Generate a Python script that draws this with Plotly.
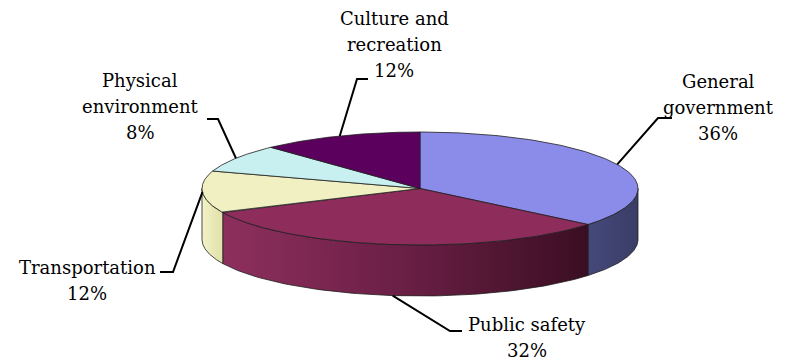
import numpy as np
import plotly.graph_objects as go

# ---------------- data ----------------
categories = ["General government", "Public safety", "Transportation",
              "Physical environment", "Culture and recreation"]
values = [36, 32, 12, 8, 12]
label_lines = [["General", "government"], ["Public safety"], ["Transportation"],
               ["Physical", "environment"], ["Culture and", "recreation"]]

# ---------------- style / layout ----------------
top_colors = ["#8b8bea", "#8e2d5c", "#f0f0c2", "#c8f0f0", "#5c005e"]
side_scales = [
    [[0, "#45497a"], [1, "#3a3d66"]],
    [[0, "#8e2f5e"], [0.5, "#6a1f45"], [1, "#3a0e22"]],
    [[0, "#f2f2c8"], [1, "#e0e0a8"]],
    [[0, "#c8f0f0"], [1, "#b0d8d8"]],
    [[0, "#5c005e"], [1, "#3a003c"]],
]
CX, CY, RX, RY, DEPTH = 420, 188.5, 218, 56.5, 51
OUTLINE = "#1e1e1e"
FONT = "DejaVu Serif"
FONT_SIZE = 18
LINE_GAP = 26

# label placement: (text centre x, text centre y), leader elbow, leader end,
# and whether the leader starts at the bottom rim
label_pos = [(718, 107), (527, 337), (87, 280), (140, 106), (394, 44)]
leader_elbow = [(658, 118), (450, 331), (173, 272), (218, 119), (357, 79)]
leader_end = [(672, 118), (462, 331), (160, 272), (207, 119), (368, 79)]
leader_bottom = [False, True, False, False, False]


def rim(theta_deg, drop=0.0):
    t = np.radians(theta_deg)
    return CX + RX * np.cos(t), CY - RY * np.sin(t) + drop


total = float(sum(values))
cum = np.concatenate([[0.0], np.cumsum(values)]) / total
starts = 90 - 360 * cum[:-1]
ends = 90 - 360 * cum[1:]

fig = go.Figure()

# side walls (front half: theta in [-180, 0])
for i in range(len(values)):
    for shift in (-360, 0, 360):
        lo = max(ends[i] + shift, -180)
        hi = min(starts[i] + shift, 0)
        if hi - lo <= 0.01:
            continue
        th = np.linspace(hi, lo, 80)
        xt, yt = rim(th)
        xb, yb = rim(th[::-1], DEPTH)
        xs = np.concatenate([xt, xb, xt[:1]])
        ys = np.concatenate([yt, yb, yt[:1]])
        fig.add_trace(go.Scatter(
            x=xs, y=ys, mode="lines", fill="toself",
            fillgradient=dict(type="horizontal", colorscale=side_scales[i]),
            line=dict(color=OUTLINE, width=0.8),
            hoverinfo="skip", showlegend=False))

# top faces
for i in range(len(values)):
    th = np.linspace(starts[i], ends[i], 160)
    xa, ya = rim(th)
    xs = np.concatenate([[CX], xa, [CX]])
    ys = np.concatenate([[CY], ya, [CY]])
    fig.add_trace(go.Scatter(
        x=xs, y=ys, mode="lines", fill="toself", fillcolor=top_colors[i],
        line=dict(color=OUTLINE, width=0.8),
        name=categories[i], hoverinfo="skip", showlegend=False))

# leader lines + labels
annotations = []
for i in range(len(values)):
    mid = (starts[i] + ends[i]) / 2
    sx, sy = rim(mid, DEPTH if leader_bottom[i] else 0)
    ex, ey = leader_elbow[i]
    fx, fy = leader_end[i]
    fig.add_trace(go.Scatter(
        x=[sx, ex, fx], y=[sy, ey, fy], mode="lines",
        line=dict(color="#000000", width=2),
        hoverinfo="skip", showlegend=False))
    tx, ty = label_pos[i]
    lines = label_lines[i] + [f"{values[i]}%"]
    n = len(lines)
    for k, txt in enumerate(lines):
        annotations.append(dict(
            x=tx, y=ty + (k - (n - 1) / 2) * LINE_GAP, xref="x", yref="y",
            showarrow=False, text=txt,
            font=dict(family=FONT, size=FONT_SIZE, color="#000000"),
            xanchor="center", yanchor="middle", align="center"))

fig.update_layout(
    width=791, height=360,
    margin=dict(l=0, r=0, t=0, b=0),
    paper_bgcolor="white", plot_bgcolor="white",
    font=dict(family=FONT),
    xaxis=dict(range=[0, 791], visible=False, fixedrange=True),
    yaxis=dict(range=[360, 0], visible=False, fixedrange=True),
    annotations=annotations,
    showlegend=False,
)

fig.write_html("out.html")
